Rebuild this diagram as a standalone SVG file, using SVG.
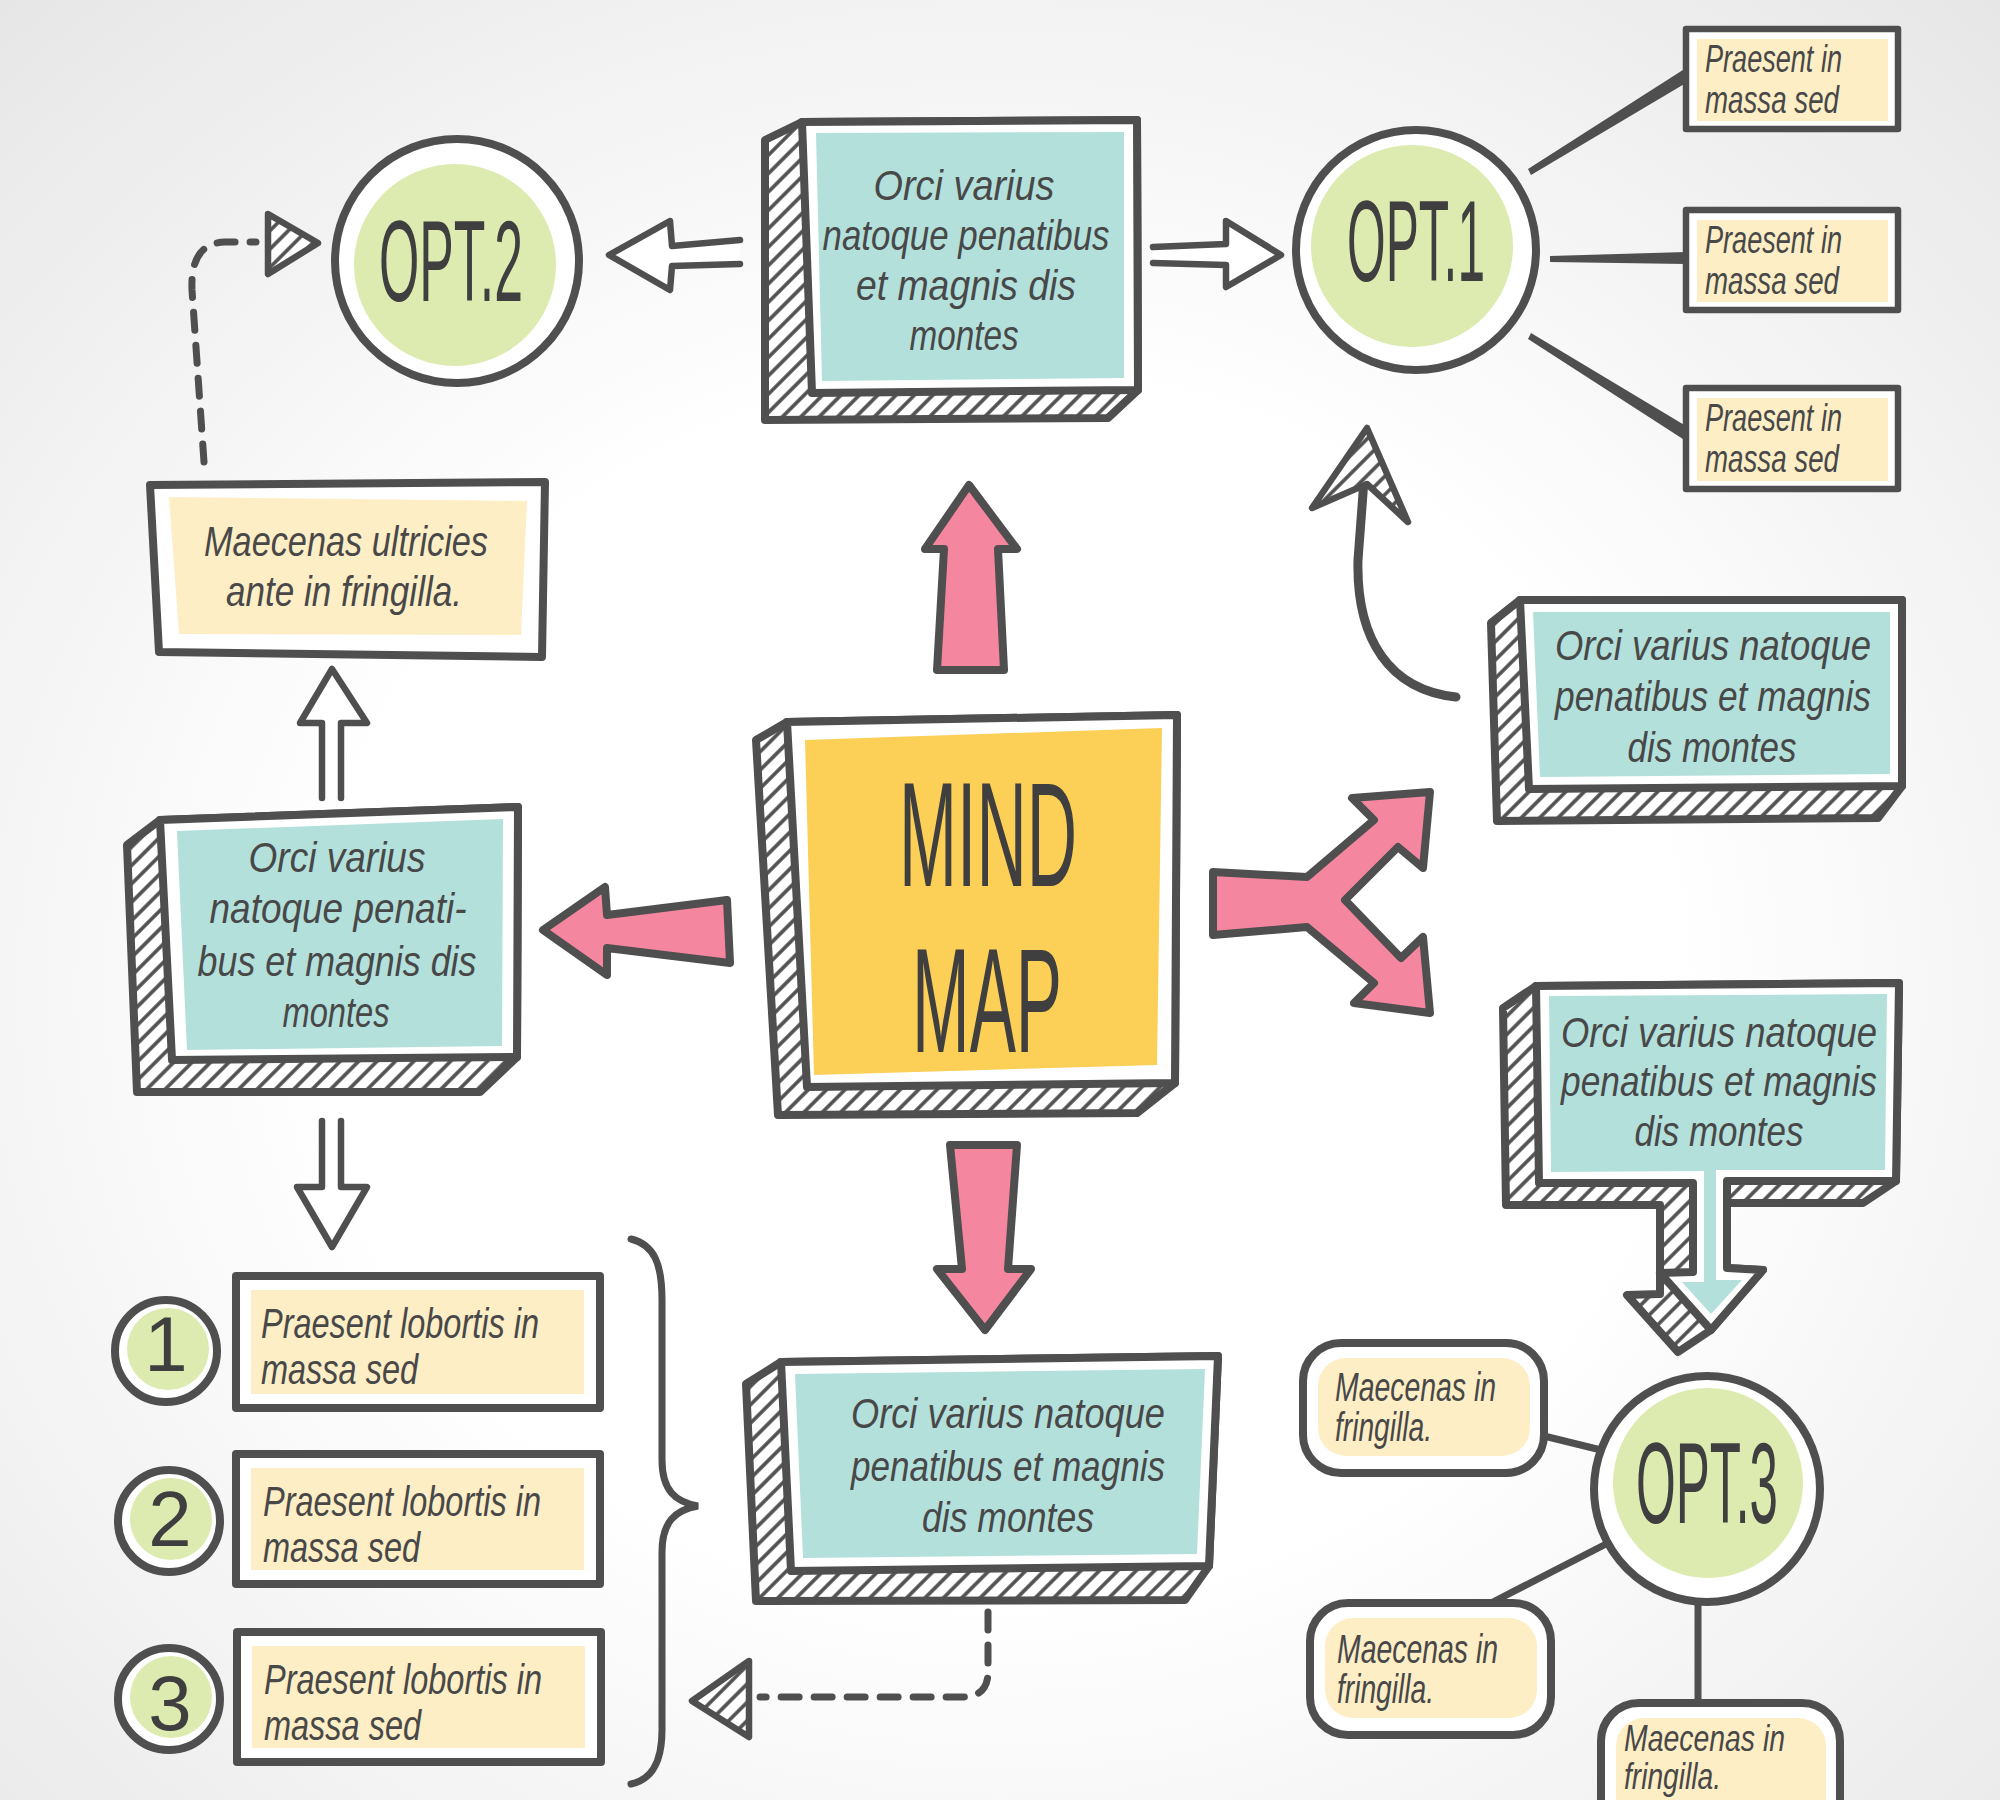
<svg xmlns="http://www.w3.org/2000/svg" width="2000" height="1800" viewBox="0 0 2000 1800">
<defs>
<radialGradient id="bg" cx="50%" cy="55%" r="75%">
<stop offset="0.45" stop-color="#ffffff"/>
<stop offset="1" stop-color="#e6e6e6"/>
</radialGradient>
<pattern id="h" width="13" height="13" patternUnits="userSpaceOnUse" patternTransform="rotate(45)">
<rect width="13" height="13" fill="#ffffff"/>
<line x1="3" y1="0" x2="3" y2="13" stroke="#4f4f4f" stroke-width="3.6"/>
</pattern>
<style>
.o{stroke:#4f4f4f;stroke-width:8;stroke-linejoin:round;stroke-linecap:round}
.o6{stroke:#4f4f4f;stroke-width:6.5;stroke-linejoin:round;stroke-linecap:round}
.w{fill:#ffffff}
.hf{fill:url(#h)}
.teal{fill:#b3e0db}
.ylw{fill:#fdeec6}
.grn{fill:#deebb0}
.pink{fill:#f5869f}
.mind{fill:#fccf57}
.ln{fill:none;stroke:#4f4f4f;stroke-width:7;stroke-linecap:round}
.dash{fill:none;stroke:#4f4f4f;stroke-width:7;stroke-linecap:round;stroke-dasharray:18 15}
.t{font-family:"Liberation Sans Narrow","Liberation Sans",Arial,sans-serif;font-style:italic;fill:#484848}
.c{text-anchor:middle}
.opt{font-family:"Liberation Sans Narrow","Liberation Sans",Arial,sans-serif;fill:#3f3f3f;text-anchor:middle;font-size:115px}
.big{font-family:"Liberation Sans Narrow","Liberation Sans",Arial,sans-serif;fill:#3f3f3f;text-anchor:middle;font-size:148px}
.num{font-family:"Liberation Sans","Arial",sans-serif;fill:#3f3f3f;text-anchor:middle;font-size:78px}
</style>
</defs>
<rect width="2000" height="1800" fill="url(#bg)"/>

<g id="connectors">
<path class="o6 w" d="M 740,240 L 672,246 L 670,221 L 609,255 L 670,290 L 672,266 L 740,264"/>
<path class="o6 w" d="M 1153,247 L 1226,244 L 1226,221 L 1281,255 L 1226,287 L 1226,265 L 1153,263"/>
<path class="o6 w" d="M 322,798 L 322,723 L 300,723 L 332,669 L 367,723 L 341,723 L 341,798"/>
<path class="o6 w" d="M 322,1121 L 322,1187 L 297,1187 L 332,1247 L 367,1187 L 341,1187 L 341,1121"/>
<polygon class="o pink" points="937,670 944,549 925,549 969,485 1017,549 998,549 1004,670"/>
<polygon class="o pink" points="950,1145 1017,1145 1008,1269 1031,1269 985,1330 937,1269 962,1269"/>
<polygon class="o pink" points="730,963 607,948 607,975 543,930 605,887 607,915 727,900"/>
<polygon class="o pink" points="1213,872 1307,877 1374,820 1352,798 1430,792 1423,868 1398,847 1345,900 1401,958 1423,937 1430,1013 1354,1003 1374,983 1307,927 1213,935"/>
<polygon fill="#4f4f4f" points="1528,169 1686,68 1686,83 1531,175"/>
<polygon fill="#4f4f4f" points="1550,256 1686,252 1686,264 1550,262"/>
<polygon fill="#4f4f4f" points="1531,333 1686,426 1686,441 1528,339"/>
<line class="ln" x1="1544" y1="1436" x2="1601" y2="1450"/>
<line class="ln" x1="1491" y1="1603" x2="1608" y2="1543"/>
<line class="ln" x1="1698" y1="1603" x2="1698" y2="1703"/>
<path fill="none" stroke="#4f4f4f" stroke-width="9" stroke-linecap="round" d="M 1456,697 C 1390,690 1356,640 1358,560 L 1364,480"/>
<polygon class="o6 hf" points="1367,428 1408,522 1367,484 1312,508"/>
<path class="dash" d="M 204,462 L 192,290 Q 190,243 225,242 L 256,242"/>
<polygon class="o6 hf" points="268,214 318,243 268,274"/>
<path class="dash" d="M 988,1612 L 988,1672 Q 988,1697 962,1697 L 760,1697"/>
<polygon class="o6 hf" points="749,1661 692,1701 749,1737"/>
<path class="ln" d="M 631,1239 C 655,1245 662,1265 662,1300 L 662,1460 C 662,1490 675,1502 698,1506 C 675,1510 662,1522 662,1552 L 662,1730 C 662,1765 650,1780 631,1784"/>
</g>

<g id="opt2">
<circle class="o w" cx="457" cy="261" r="122"/>
<circle class="grn" cx="455" cy="265" r="101"/>
<text class="opt" x="451" y="301" textLength="144" lengthAdjust="spacingAndGlyphs">OPT.2</text>
</g>

<g id="opt1">
<circle class="o w" cx="1416" cy="250" r="120"/>
<circle class="grn" cx="1412" cy="246" r="101"/>
<text class="opt" x="1416" y="281" textLength="138" lengthAdjust="spacingAndGlyphs">OPT.1</text>
</g>

<g id="opt3">
<circle class="o w" cx="1707" cy="1489" r="113"/>
<circle class="grn" cx="1708" cy="1483" r="95"/>
<text class="opt" x="1707" y="1523" textLength="142" lengthAdjust="spacingAndGlyphs">OPT.3</text>
</g>

<g id="box-top">
<polygon class="o hf" points="802,122 1137,120 1138,390 1108,418 765,420 765,140"/>
<polygon class="o w" points="802,122 1137,120 1138,390 812,393"/>
<polygon class="teal" points="816,133 1124,132 1124,378 822,381"/>
<text class="t c" font-size="42" x="964" y="200" textLength="181" lengthAdjust="spacingAndGlyphs">Orci varius</text>
<text class="t c" font-size="42" x="966" y="250" textLength="287" lengthAdjust="spacingAndGlyphs">natoque penatibus</text>
<text class="t c" font-size="42" x="966" y="300" textLength="220" lengthAdjust="spacingAndGlyphs">et magnis dis</text>
<text class="t c" font-size="42" x="964" y="350" textLength="109" lengthAdjust="spacingAndGlyphs">montes</text>
</g>

<g id="mind-map">
<polygon class="o hf" points="787,722 1177,715 1175,1083 1137,1113 778,1115 756,740"/>
<polygon class="o w" points="787,722 1177,715 1175,1083 807,1087"/>
<polygon class="mind" points="805,740 1162,728 1157,1065 814,1075"/>
<text class="big" x="988" y="886" textLength="178" lengthAdjust="spacingAndGlyphs">MIND</text>
<text class="big" x="987" y="1052" textLength="150" lengthAdjust="spacingAndGlyphs">MAP</text>
</g>

<g id="box-left">
<polygon class="o hf" points="160,820 518,807 517,1057 480,1092 137,1092 127,845"/>
<polygon class="o w" points="160,820 518,807 517,1057 172,1060"/>
<polygon class="teal" points="177,831 503,819 502,1046 187,1050"/>
<text class="t c" font-size="42" x="337" y="872" textLength="177" lengthAdjust="spacingAndGlyphs">Orci varius</text>
<text class="t c" font-size="42" x="338" y="923" textLength="257" lengthAdjust="spacingAndGlyphs">natoque penati-</text>
<text class="t c" font-size="42" x="337" y="976" textLength="279" lengthAdjust="spacingAndGlyphs">bus et magnis dis</text>
<text class="t c" font-size="42" x="336" y="1027" textLength="107" lengthAdjust="spacingAndGlyphs">montes</text>
</g>

<g id="box-maecenas">
<polygon class="o w" points="150,485 545,482 542,657 159,652"/>
<polygon class="ylw" points="169,497 527,501 521,635 179,634"/>
<text class="t c" font-size="42" x="346" y="556" textLength="284" lengthAdjust="spacingAndGlyphs">Maecenas ultricies</text>
<text class="t c" font-size="42" x="344" y="606" textLength="236" lengthAdjust="spacingAndGlyphs">ante in fringilla.</text>
</g>

<g id="box-right-1">
<polygon class="o hf" points="1520,600 1902,600 1902,786 1878,818 1497,821 1491,623"/>
<polygon class="o w" points="1520,600 1902,600 1902,786 1529,789"/>
<polygon class="teal" points="1533,612 1890,612 1890,774 1540,777"/>
<text class="t c" font-size="42" x="1713" y="660" textLength="316" lengthAdjust="spacingAndGlyphs">Orci varius natoque</text>
<text class="t c" font-size="42" x="1713" y="711" textLength="316" lengthAdjust="spacingAndGlyphs">penatibus et magnis</text>
<text class="t c" font-size="42" x="1712" y="762" textLength="169" lengthAdjust="spacingAndGlyphs">dis montes</text>
</g>

<g id="box-right-2">
<polygon class="o hf" points="1536,986 1899,983 1896,1181 1863,1203 1727,1203 1727,1268 1763,1270 1711,1330 1678,1352 1627,1295 1660,1294 1660,1205 1506,1205 1503,1008"/>
<polygon class="o w" points="1536,986 1899,983 1896,1181 1727,1181 1727,1268 1763,1270 1711,1330 1660,1273 1693,1272 1693,1183 1539,1183"/>
<polygon class="teal" points="1549,996 1887,994 1885,1170 1716,1170 1716,1280 1742,1280 1711,1314 1682,1282 1704,1282 1704,1171 1551,1172"/>
<text class="t c" font-size="42" x="1719" y="1047" textLength="316" lengthAdjust="spacingAndGlyphs">Orci varius natoque</text>
<text class="t c" font-size="42" x="1719" y="1096" textLength="316" lengthAdjust="spacingAndGlyphs">penatibus et magnis</text>
<text class="t c" font-size="42" x="1719" y="1146" textLength="169" lengthAdjust="spacingAndGlyphs">dis montes</text>
</g>

<g id="box-bottom">
<polygon class="o hf" points="781,1362 1218,1356 1209,1566 1185,1600 756,1601 746,1384"/>
<polygon class="o w" points="781,1362 1218,1356 1209,1566 791,1571"/>
<polygon class="teal" points="795,1374 1205,1369 1197,1554 803,1558"/>
<text class="t c" font-size="42" x="1008" y="1428" textLength="314" lengthAdjust="spacingAndGlyphs">Orci varius natoque</text>
<text class="t c" font-size="42" x="1008" y="1481" textLength="314" lengthAdjust="spacingAndGlyphs">penatibus et magnis</text>
<text class="t c" font-size="42" x="1008" y="1532" textLength="172" lengthAdjust="spacingAndGlyphs">dis montes</text>
</g>

<g id="opt1-item-1">
<rect class="o6 w" x="1686" y="29" width="212" height="100"/>
<rect class="ylw" x="1697" y="39" width="191" height="82"/>
<text class="t" font-size="38" x="1705" y="72" textLength="137" lengthAdjust="spacingAndGlyphs">Praesent in</text>
<text class="t" font-size="38" x="1705" y="113" textLength="134" lengthAdjust="spacingAndGlyphs">massa sed</text>
</g>
<g id="opt1-item-2">
<rect class="o6 w" x="1686" y="210" width="212" height="100"/>
<rect class="ylw" x="1697" y="220" width="191" height="82"/>
<text class="t" font-size="38" x="1705" y="253" textLength="137" lengthAdjust="spacingAndGlyphs">Praesent in</text>
<text class="t" font-size="38" x="1705" y="294" textLength="134" lengthAdjust="spacingAndGlyphs">massa sed</text>
</g>
<g id="opt1-item-3">
<rect class="o6 w" x="1686" y="388" width="212" height="101"/>
<rect class="ylw" x="1697" y="398" width="191" height="83"/>
<text class="t" font-size="38" x="1705" y="431" textLength="137" lengthAdjust="spacingAndGlyphs">Praesent in</text>
<text class="t" font-size="38" x="1705" y="472" textLength="134" lengthAdjust="spacingAndGlyphs">massa sed</text>
</g>

<g id="list-item-1">
<circle class="o w" cx="166" cy="1351" r="51"/>
<circle class="grn" cx="168" cy="1349" r="41"/>
<text class="num" x="166" y="1371">1</text>
<rect class="o w" x="236" y="1276" width="364" height="132"/>
<rect class="ylw" x="251" y="1290" width="333" height="104"/>
<text class="t" font-size="42" x="261" y="1338" textLength="278" lengthAdjust="spacingAndGlyphs">Praesent lobortis in</text>
<text class="t" font-size="42" x="261" y="1384" textLength="157" lengthAdjust="spacingAndGlyphs">massa sed</text>
</g>
<g id="list-item-2">
<circle class="o w" cx="169" cy="1521" r="51"/>
<circle class="grn" cx="171" cy="1519" r="41"/>
<text class="num" x="170" y="1546">2</text>
<rect class="o w" x="236" y="1454" width="364" height="130"/>
<rect class="ylw" x="251" y="1468" width="333" height="102"/>
<text class="t" font-size="42" x="263" y="1516" textLength="278" lengthAdjust="spacingAndGlyphs">Praesent lobortis in</text>
<text class="t" font-size="42" x="263" y="1562" textLength="157" lengthAdjust="spacingAndGlyphs">massa sed</text>
</g>
<g id="list-item-3">
<circle class="o w" cx="169" cy="1699" r="51"/>
<circle class="grn" cx="171" cy="1697" r="41"/>
<text class="num" x="170" y="1730">3</text>
<rect class="o w" x="237" y="1632" width="364" height="130"/>
<rect class="ylw" x="252" y="1646" width="333" height="102"/>
<text class="t" font-size="42" x="264" y="1694" textLength="278" lengthAdjust="spacingAndGlyphs">Praesent lobortis in</text>
<text class="t" font-size="42" x="264" y="1740" textLength="157" lengthAdjust="spacingAndGlyphs">massa sed</text>
</g>

<g id="opt3-item-1">
<rect class="o w" x="1303" y="1343" width="241" height="130" rx="38"/>
<rect class="ylw" x="1318" y="1358" width="212" height="98" rx="28"/>
<text class="t" font-size="40" x="1335" y="1401" textLength="161" lengthAdjust="spacingAndGlyphs">Maecenas in</text>
<text class="t" font-size="40" x="1335" y="1441" textLength="97" lengthAdjust="spacingAndGlyphs">fringilla.</text>
</g>
<g id="opt3-item-2">
<rect class="o w" x="1310" y="1603" width="241" height="132" rx="38"/>
<rect class="ylw" x="1325" y="1618" width="212" height="100" rx="28"/>
<text class="t" font-size="40" x="1337" y="1663" textLength="161" lengthAdjust="spacingAndGlyphs">Maecenas in</text>
<text class="t" font-size="40" x="1337" y="1703" textLength="97" lengthAdjust="spacingAndGlyphs">fringilla.</text>
</g>
<g id="opt3-item-3">
<rect class="o w" x="1601" y="1703" width="239" height="140" rx="38"/>
<rect class="ylw" x="1616" y="1718" width="210" height="110" rx="28"/>
<text class="t" font-size="37" x="1624" y="1751" textLength="161" lengthAdjust="spacingAndGlyphs">Maecenas in</text>
<text class="t" font-size="37" x="1624" y="1789" textLength="97" lengthAdjust="spacingAndGlyphs">fringilla.</text>
</g>
</svg>
